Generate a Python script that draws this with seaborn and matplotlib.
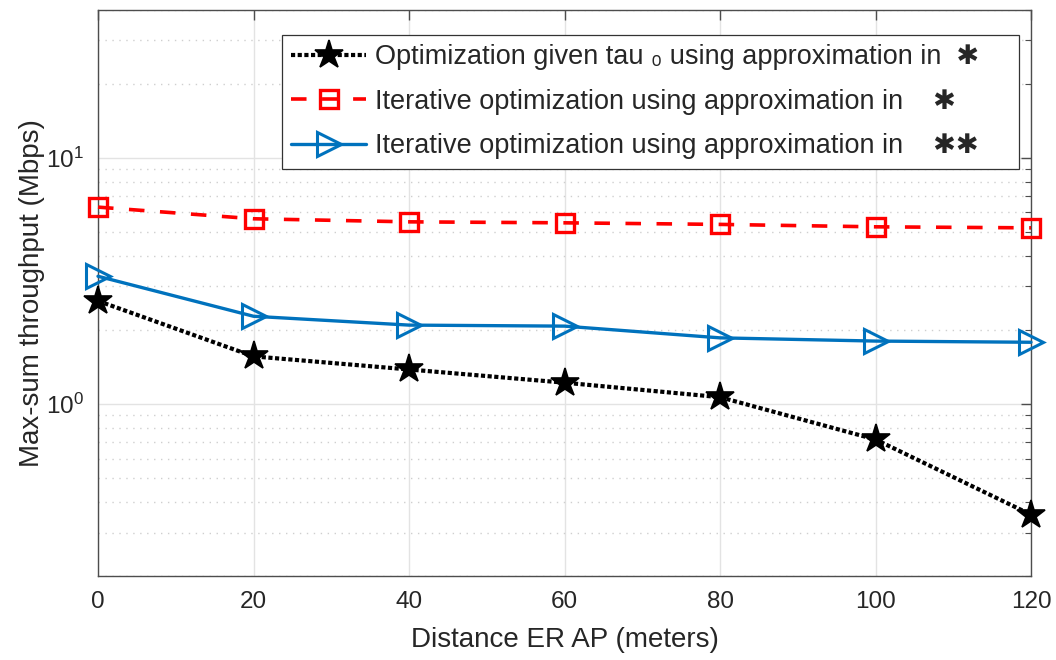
import matplotlib
matplotlib.use("Agg")
import matplotlib.pyplot as plt
import seaborn as sns
import numpy as np
import pandas as pd
from matplotlib.ticker import LogLocator, NullFormatter

# Distance between ER and AP (meters)
distance = [0, 20, 40, 60, 80, 100, 120]

# Max-sum throughput (Mbps) for each scheme
tput_given_tau0 = [2.62, 1.56, 1.38, 1.22, 1.065, 0.717, 0.355]
tput_iter_approx1 = [6.30, 5.65, 5.49, 5.44, 5.36, 5.24, 5.19]
tput_iter_approx2 = [3.30, 2.27, 2.09, 2.07, 1.855, 1.80, 1.78]

labels = [
    "Optimization given tau \u2080 using approximation in  \u2731    ",
    "Iterative optimization using approximation in    \u2731    ",
    "Iterative optimization using approximation in    \u2731\u2731    ",
]

x_ticks = [0, 20, 40, 60, 80, 100, 120]

sns.set_theme(style="white")
plt.rcParams["font.family"] = ["Liberation Sans", "DejaVu Sans"]

txt = "#262626"
fig = plt.figure(figsize=(10.56, 6.6), dpi=100)
ax = fig.add_axes([98 / 1056, 1 - 576 / 660, (1031 - 98) / 1056, (576 - 9.5) / 660])

ax.set_yscale("log")
ax.set_xlim(0, 120)
ax.set_ylim(0.2, 40)

# Grid: solid major, dotted minor (log)
ax.set_axisbelow(True)
ax.grid(True, which="major", color="#e3e3e3", linewidth=1.0, linestyle="-")
ax.grid(True, which="minor", axis="y", color="#cfcfcf", linewidth=1.0, linestyle=(0, (1, 4)))

series = [
    (tput_given_tau0, dict(color="black", linestyle=(0, (1, 0.6)), linewidth=3.0,
                           marker="*", markersize=21, markerfacecolor="black",
                           markeredgecolor="black", markeredgewidth=1.2)),
    (tput_iter_approx1, dict(color="#ff0000", linestyle=(0, (4.3, 4.3)), linewidth=2.6,
                             marker="s", markersize=12.5, markerfacecolor="none",
                             markeredgecolor="#ff0000", markeredgewidth=2.4)),
    (tput_iter_approx2, dict(color="#0072BD", linestyle="-", linewidth=2.4,
                             marker=">", markersize=17, markerfacecolor="none",
                             markeredgecolor="#0072BD", markeredgewidth=2.2)),
]

for (vals, style), lab in zip(series, labels):
    df = pd.DataFrame({"distance": distance, "throughput": vals})
    sns.lineplot(data=df, x="distance", y="throughput", ax=ax, label=lab,
                 clip_on=False, zorder=3, **style)

ax.set_xticks(x_ticks)
ax.set_xticklabels([str(v) for v in x_ticks])
ax.yaxis.set_major_locator(LogLocator(base=10, numticks=10))
ax.yaxis.set_minor_locator(LogLocator(base=10, subs=np.arange(2, 10), numticks=20))
ax.yaxis.set_minor_formatter(NullFormatter())

ax.tick_params(axis="both", which="both", direction="in", colors="#4d4d4d",
               labelcolor=txt, labelsize=17.5, top=True, right=True)
ax.tick_params(axis="x", which="major", length=7, width=1.0, pad=11)
ax.tick_params(axis="y", which="major", length=7, width=1.0, pad=10)
ax.tick_params(axis="y", which="minor", length=4, width=0.8)
ax.tick_params(axis="x", which="minor", length=0)

for s in ax.spines.values():
    s.set_color("#4d4d4d")
    s.set_linewidth(1.0)

ax.set_xlabel("Distance ER AP (meters)", fontsize=20, color=txt, labelpad=10)
ax.set_ylabel("Max-sum throughput (Mbps)", fontsize=20, color=txt, labelpad=1)

leg = ax.legend(loc="upper right", bbox_to_anchor=(0.987, 0.955), borderaxespad=0,
                fontsize=19.5, frameon=True, fancybox=False, edgecolor="#333333",
                framealpha=1, handlelength=2.75, handletextpad=0.35,
                labelspacing=0.68, borderpad=0.35)
leg.get_frame().set_linewidth(0.9)
for t in leg.get_texts():
    t.set_color(txt)

fig.savefig("out.png", dpi=100)
